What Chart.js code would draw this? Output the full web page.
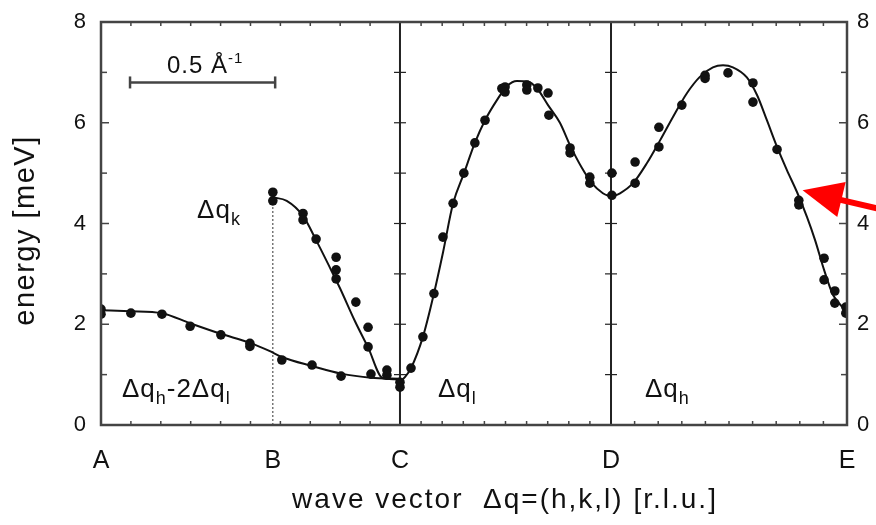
<!DOCTYPE html>
<html>
<head>
<meta charset="utf-8">
<script src="https://cdn.jsdelivr.net/npm/chart.js@4"></script>
<style>
  html, body { margin: 0; padding: 0; background: #fff; }
  #wrap { width: 876px; height: 525px; }
</style>
</head>
<body>
<div id="wrap"><canvas id="chart" width="876" height="525"></canvas></div>
<script>
// path along the zone (Å^-1 from A), energies in meV
const xTickPos = [0, 0.592, 1.030, 1.757, 2.570];
const xTickLabels = ['A', 'B', 'C', 'D', 'E'];
const yTicks = [0, 2, 4, 6, 8];
const yMinor = [1, 3, 5, 7];

// fitted dispersion curves
const fitHLx = [0, 0.100, 0.210, 0.307, 0.413, 0.513, 0.580, 0.623, 0.727, 0.827, 0.930, 1.030];
const fitHLy = [2.28, 2.26, 2.22, 2.02, 1.81, 1.63, 1.47, 1.35, 1.17, 1.02, 0.94, 0.92];
const fitKx = [0.592, 0.640, 0.696, 0.741, 0.789, 0.823, 0.875, 0.920, 0.971, 1.030];
const fitKy = [4.52, 4.45, 4.15, 3.67, 3.12, 2.72, 2.06, 1.54, 0.93, 0.91];
const fitLx = [1.030, 1.047, 1.068, 1.109, 1.147, 1.178, 1.213, 1.250, 1.288, 1.323, 1.364, 1.399, 1.433, 1.471, 1.505, 1.540, 1.581, 1.616, 1.657, 1.691, 1.729, 1.757];
const fitLy = [0.87, 0.95, 1.13, 1.75, 2.61, 3.42, 4.40, 4.99, 5.60, 6.05, 6.45, 6.73, 6.83, 6.82, 6.66, 6.35, 6.00, 5.55, 5.10, 4.80, 4.60, 4.53];
const fitHx = [1.757, 1.788, 1.833, 1.881, 1.926, 1.970, 2.019, 2.063, 2.108, 2.143, 2.177, 2.225, 2.260, 2.294, 2.329, 2.363, 2.398, 2.432, 2.460, 2.491, 2.522, 2.570];
const fitHy = [4.53, 4.60, 4.80, 5.20, 5.65, 6.11, 6.59, 6.91, 7.10, 7.14, 7.10, 6.90, 6.55, 6.05, 5.52, 5.06, 4.62, 4.13, 3.67, 3.08, 2.58, 2.25];

// measured phonon energies
const ptHLx = [0, 0, 0.103, 0.210, 0.307, 0.413, 0.513, 0.513, 0.623, 0.727, 0.827, 0.930];
const ptHLy = [2.30, 2.20, 2.22, 2.20, 1.96, 1.79, 1.62, 1.56, 1.29, 1.19, 0.97, 1.01];
const ptKx = [0.592, 0.592, 0.696, 0.696, 0.741, 0.810, 0.810, 0.810, 0.878, 0.920, 0.920, 0.985, 0.985];
const ptKy = [4.62, 4.45, 4.20, 4.07, 3.69, 3.33, 3.08, 2.90, 2.44, 1.94, 1.55, 1.09, 0.99];
const ptLx = [1.030, 1.030, 1.068, 1.109, 1.147, 1.178, 1.213, 1.250, 1.288, 1.323, 1.381, 1.392, 1.392, 1.467, 1.467, 1.505, 1.540, 1.543, 1.616, 1.616, 1.684, 1.684, 1.760, 1.760];
const ptLy = [0.85, 0.75, 1.13, 1.75, 2.61, 3.73, 4.40, 5.00, 5.60, 6.05, 6.68, 6.71, 6.61, 6.75, 6.65, 6.69, 6.59, 6.15, 5.50, 5.40, 4.92, 4.80, 5.00, 4.56];
const ptHx = [1.840, 1.840, 1.922, 1.922, 2.001, 2.081, 2.081, 2.160, 2.246, 2.246, 2.329, 2.404, 2.404, 2.491, 2.491, 2.528, 2.528, 2.566, 2.566];
const ptHy = [5.22, 4.80, 5.91, 5.52, 6.35, 6.88, 6.94, 6.99, 6.79, 6.41, 5.47, 4.46, 4.37, 3.31, 2.88, 2.66, 2.42, 2.34, 2.22];

// 0.5 Å^-1 scale bar
const barX = [0.1, 0.6];
const barY = [6.8, 6.8];
const bDottedTop = 4.6;

const FONT = "'Liberation Sans', Arial, Helvetica, sans-serif";
const INK = '#111';
const AXIS = '#444';

const zip = (xs, ys) => xs.map((x, i) => ({ x, y: ys[i] }));

function fitSet(xs, ys) {
  return { type: 'line', data: zip(xs, ys), borderColor: INK, borderWidth: 2, pointRadius: 0,
    fill: false, cubicInterpolationMode: 'monotone', order: 2 };
}
function ptSet(xs, ys) {
  return { type: 'scatter', data: zip(xs, ys), backgroundColor: INK, borderWidth: 0,
    pointRadius: 4.8, pointHoverRadius: 4.8, order: 1 };
}

// text labels placed in data units
const notes = [
  { x: 0.331, y: 4.10, parts: [['Δq', 0], ['k', 1]] },
  { x: 0.072, y: 0.56, parts: [['Δq', 0], ['h', 1], ['-2Δq', 0], ['l', 1]] },
  { x: 1.161, y: 0.56, parts: [['Δq', 0], ['l', 1]] },
  { x: 1.874, y: 0.56, parts: [['Δq', 0], ['h', 1]] },
  { x: 0.227, y: 6.98, parts: [['0.5 Å', 2], ['-1', -1]] }
];
const arrowTip = { x: 2.417, y: 4.66 };

function seg(ctx, x1, y1, x2, y2) {
  ctx.beginPath(); ctx.moveTo(x1, y1); ctx.lineTo(x2, y2); ctx.stroke();
}

const decor = {
  id: 'decor',
  beforeDatasetsDraw(chart) {
    const { ctx, chartArea: a, scales: { x, y } } = chart;
    ctx.save();
    ctx.strokeStyle = '#333';
    ctx.lineWidth = 1;
    ctx.setLineDash([2, 2]);
    const xb = x.getPixelForValue(xTickPos[1]);
    seg(ctx, xb, y.getPixelForValue(0), xb, y.getPixelForValue(bDottedTop));
    ctx.setLineDash([]);
    ctx.strokeStyle = '#222';
    [xTickPos[2], xTickPos[3]].forEach(v => {
      const px = x.getPixelForValue(v);
      ctx.lineWidth = 2;
      seg(ctx, px, a.top, px, a.bottom);
      ctx.lineWidth = 1.2;
      yMinor.concat([2, 4, 6]).forEach(t => {
        const py = y.getPixelForValue(t);
        seg(ctx, px - 6, py, px + 6, py);
      });
    });
    ctx.restore();
  },
  afterDatasetsDraw(chart) {
    const { ctx, chartArea: a, scales: { x, y } } = chart;
    ctx.save();
    ctx.strokeStyle = AXIS;
    ctx.lineWidth = 2.5;
    ctx.strokeRect(a.left, a.top, a.right - a.left, a.bottom - a.top);
    ctx.lineWidth = 1.5;
    yTicks.forEach(t => {
      const py = y.getPixelForValue(t);
      seg(ctx, a.left, py, a.left + 8, py);
      seg(ctx, a.right, py, a.right - 8, py);
    });
    yMinor.forEach(t => {
      const py = y.getPixelForValue(t);
      seg(ctx, a.left, py, a.left + 6, py);
      seg(ctx, a.right, py, a.right - 6, py);
    });
    // minor x ticks: 10 per segment A-C, C-D, D-E
    [[0, 2], [2, 3], [3, 4]].forEach(([i, j]) => {
      const lo = xTickPos[i], hi = xTickPos[j];
      for (let k = 1; k < 10; k++) {
        const px = x.getPixelForValue(lo + (hi - lo) * k / 10);
        seg(ctx, px, a.bottom, px, a.bottom - 4);
        seg(ctx, px, a.top, px, a.top + 4);
      }
    });
    ctx.restore();
  },
  afterDraw(chart) {
    const { ctx, chartArea: a, scales: { x, y } } = chart;
    ctx.save();
    ctx.fillStyle = INK;
    ctx.textBaseline = 'alphabetic';
    ctx.letterSpacing = '1px';
    notes.forEach(n => {
      let px = x.getPixelForValue(n.x);
      const py = y.getPixelForValue(n.y);
      n.parts.forEach(([txt, mode]) => {
        const size = mode === 0 ? 26 : mode === 2 ? 24 : mode === 1 ? 18 : 15;
        ctx.font = size + 'px ' + FONT;
        const dy = mode === 1 ? 7 : mode === -1 ? -10 : 0;
        ctx.fillText(txt, px, py + dy);
        px += ctx.measureText(txt).width;
      });
    });

    // axis titles
    ctx.letterSpacing = '2px';
    ctx.font = '28px ' + FONT;
    ctx.textAlign = 'center';
    ctx.textBaseline = 'middle';
    ctx.fillText('wave vector  Δq=(h,k,l) [r.l.u.]', (a.left + a.right) / 2 + 31, a.bottom + 75);
    ctx.letterSpacing = '1.5px';
    ctx.font = '29px ' + FONT;
    ctx.translate(26, (a.top + a.bottom) / 2 + 7);
    ctx.rotate(-Math.PI / 2);
    ctx.fillText('energy [meV]', 0, 0);
    ctx.setTransform(1, 0, 0, 1, 0, 0);
    ctx.letterSpacing = '0px';

    // red arrow
    const tx = x.getPixelForValue(arrowTip.x), ty = y.getPixelForValue(arrowTip.y);
    const d = [0.972, 0.233], n = [-0.233, 0.972];
    const bx = tx + 40 * d[0], by = ty + 40 * d[1];
    ctx.strokeStyle = '#ff0000';
    ctx.fillStyle = '#ff0000';
    ctx.lineWidth = 6;
    seg(ctx, bx - 2, by, tx + 140 * d[0], ty + 140 * d[1]);
    ctx.beginPath();
    ctx.moveTo(tx, ty);
    ctx.lineTo(bx - 18 * n[0], by - 18 * n[1]);
    ctx.lineTo(bx + 18 * n[0], by + 18 * n[1]);
    ctx.closePath();
    ctx.fill();
    ctx.restore();
  }
};

const noPadV = s => { s.paddingTop = 0; s.paddingBottom = 0; };

new Chart(document.getElementById('chart'), {
  data: {
    datasets: [
      fitSet(fitHLx, fitHLy), fitSet(fitKx, fitKy), fitSet(fitLx, fitLy), fitSet(fitHx, fitHy),
      ptSet(ptHLx, ptHLy), ptSet(ptKx, ptKy), ptSet(ptLx, ptLy), ptSet(ptHx, ptHy),
      { type: 'line', data: zip(barX, barY), borderColor: AXIS, borderWidth: 2.5,
        pointStyle: 'line', rotation: 90, pointRadius: 6, pointBorderWidth: 2.5,
        pointBorderColor: AXIS, order: 3 }
    ]
  },
  options: {
    responsive: false,
    animation: false,
    events: [],
    layout: { padding: { top: 22, left: 0, right: 0, bottom: 0 } },
    plugins: { legend: { display: false }, tooltip: { enabled: false } },
    scales: {
      x: {
        type: 'linear', min: 0, max: 2.57,
        grid: { display: false, drawTicks: false }, border: { display: false },
        afterBuildTicks: s => { s.ticks = xTickPos.map(v => ({ value: v })); },
        afterFit: s => { s.height = 100; s.paddingLeft = 0; s.paddingRight = 0; },
        ticks: { autoSkip: false, maxRotation: 0, padding: 21, color: INK,
          font: { family: FONT, size: 25 },
          callback: (v, i) => xTickLabels[i] }
      },
      y: {
        position: 'left', min: 0, max: 8,
        grid: { display: false, drawTicks: false }, border: { display: false },
        afterBuildTicks: s => { s.ticks = yTicks.map(v => ({ value: v })); },
        afterFit: s => { s.width = 101; noPadV(s); },
        ticks: { padding: 15, color: INK, font: { family: FONT, size: 22 } }
      },
      y2: {
        position: 'right', min: 0, max: 8,
        grid: { display: false, drawTicks: false }, border: { display: false },
        afterBuildTicks: s => { s.ticks = yTicks.map(v => ({ value: v })); },
        afterFit: s => { s.width = 29; noPadV(s); },
        ticks: { padding: 10, color: INK, font: { family: FONT, size: 22 } }
      }
    }
  },
  plugins: [decor]
});
</script>
</body>
</html>
